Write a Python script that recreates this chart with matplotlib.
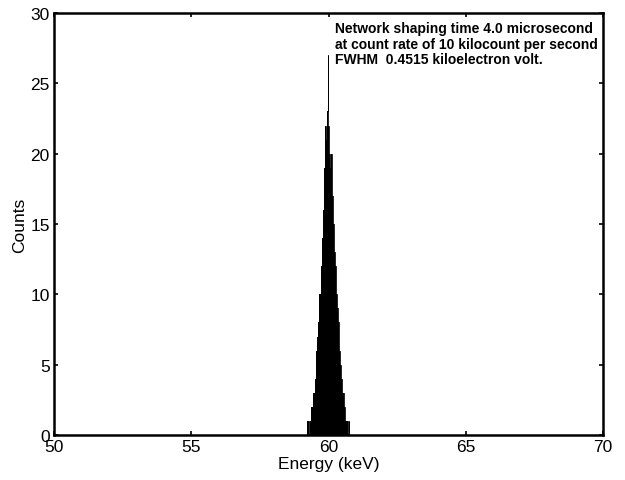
#!/usr/bin/env python3
"""
Energy spectrum histogram - network shaping time 4.0 us
"""

import numpy as np
import matplotlib
matplotlib.use('Agg')
import matplotlib.pyplot as plt

# ===================== CONFIG =====================
plt.rcParams.update({
    'font.family': ['Liberation Sans', 'DejaVu Sans'],
    'font.size': 12.5,
    'xtick.direction': 'in',
    'ytick.direction': 'in',
    'xtick.top': True,
    'ytick.right': True,
})

# ===================== DATA =====================
bin_start = 59.23      # keV, left edge of the first bin
bin_width = 0.02       # keV
counts = [
    1, 1, 1, 0, 1, 1, 1, 2, 1, 2,
    2, 3, 3, 4, 4, 4, 6, 6, 7, 6,
    8, 9, 10, 10, 12, 12, 13, 14, 15, 16,
    17, 19, 20, 22, 21, 23, 23, 27, 22, 21,
    20, 20, 19, 20, 19, 17, 16, 15, 14, 13,
    12, 12, 11, 10, 9, 8, 8, 7, 6, 6,
    5, 4, 4, 4, 3, 3, 3, 2, 2, 1,
    1, 1, 1, 1, 0, 1,
]
x_ticks = [50, 55, 60, 65, 70]
y_ticks = [0, 5, 10, 15, 20, 25, 30]
note = ("Network shaping time 4.0 microsecond\n"
        "at count rate of 10 kilocount per second\n"
        "FWHM  0.4515 kiloelectron volt.")

edges = bin_start + bin_width * np.arange(len(counts) + 1)

# ===================== FIGURE =====================
fig = plt.figure(figsize=(6.25, 4.81), dpi=100)
ax = fig.add_axes([0.0864, 0.0936, 0.8784, 0.8773])

ax.stairs(counts, edges, fill=True, color='black', linewidth=0)
# contour so that the single tall bin stays visible
ax.stairs(counts, edges, color='black', linewidth=0.6)

ax.set_xlim(50, 70)
ax.set_ylim(0, 30)
ax.set_xticks(x_ticks)
ax.set_yticks(y_ticks)
ax.tick_params(length=3, width=1.2, pad=3)
for s in ax.spines.values():
    s.set_linewidth(1.8)

ax.set_xlabel("Energy (keV)", labelpad=1)
ax.set_ylabel("Counts", labelpad=2)

ax.text(60.24, 29.4, note, fontsize=10, fontweight='bold',
        va='top', ha='left', linespacing=1.1)

fig.savefig("out.png", dpi=100)
plt.close(fig)
